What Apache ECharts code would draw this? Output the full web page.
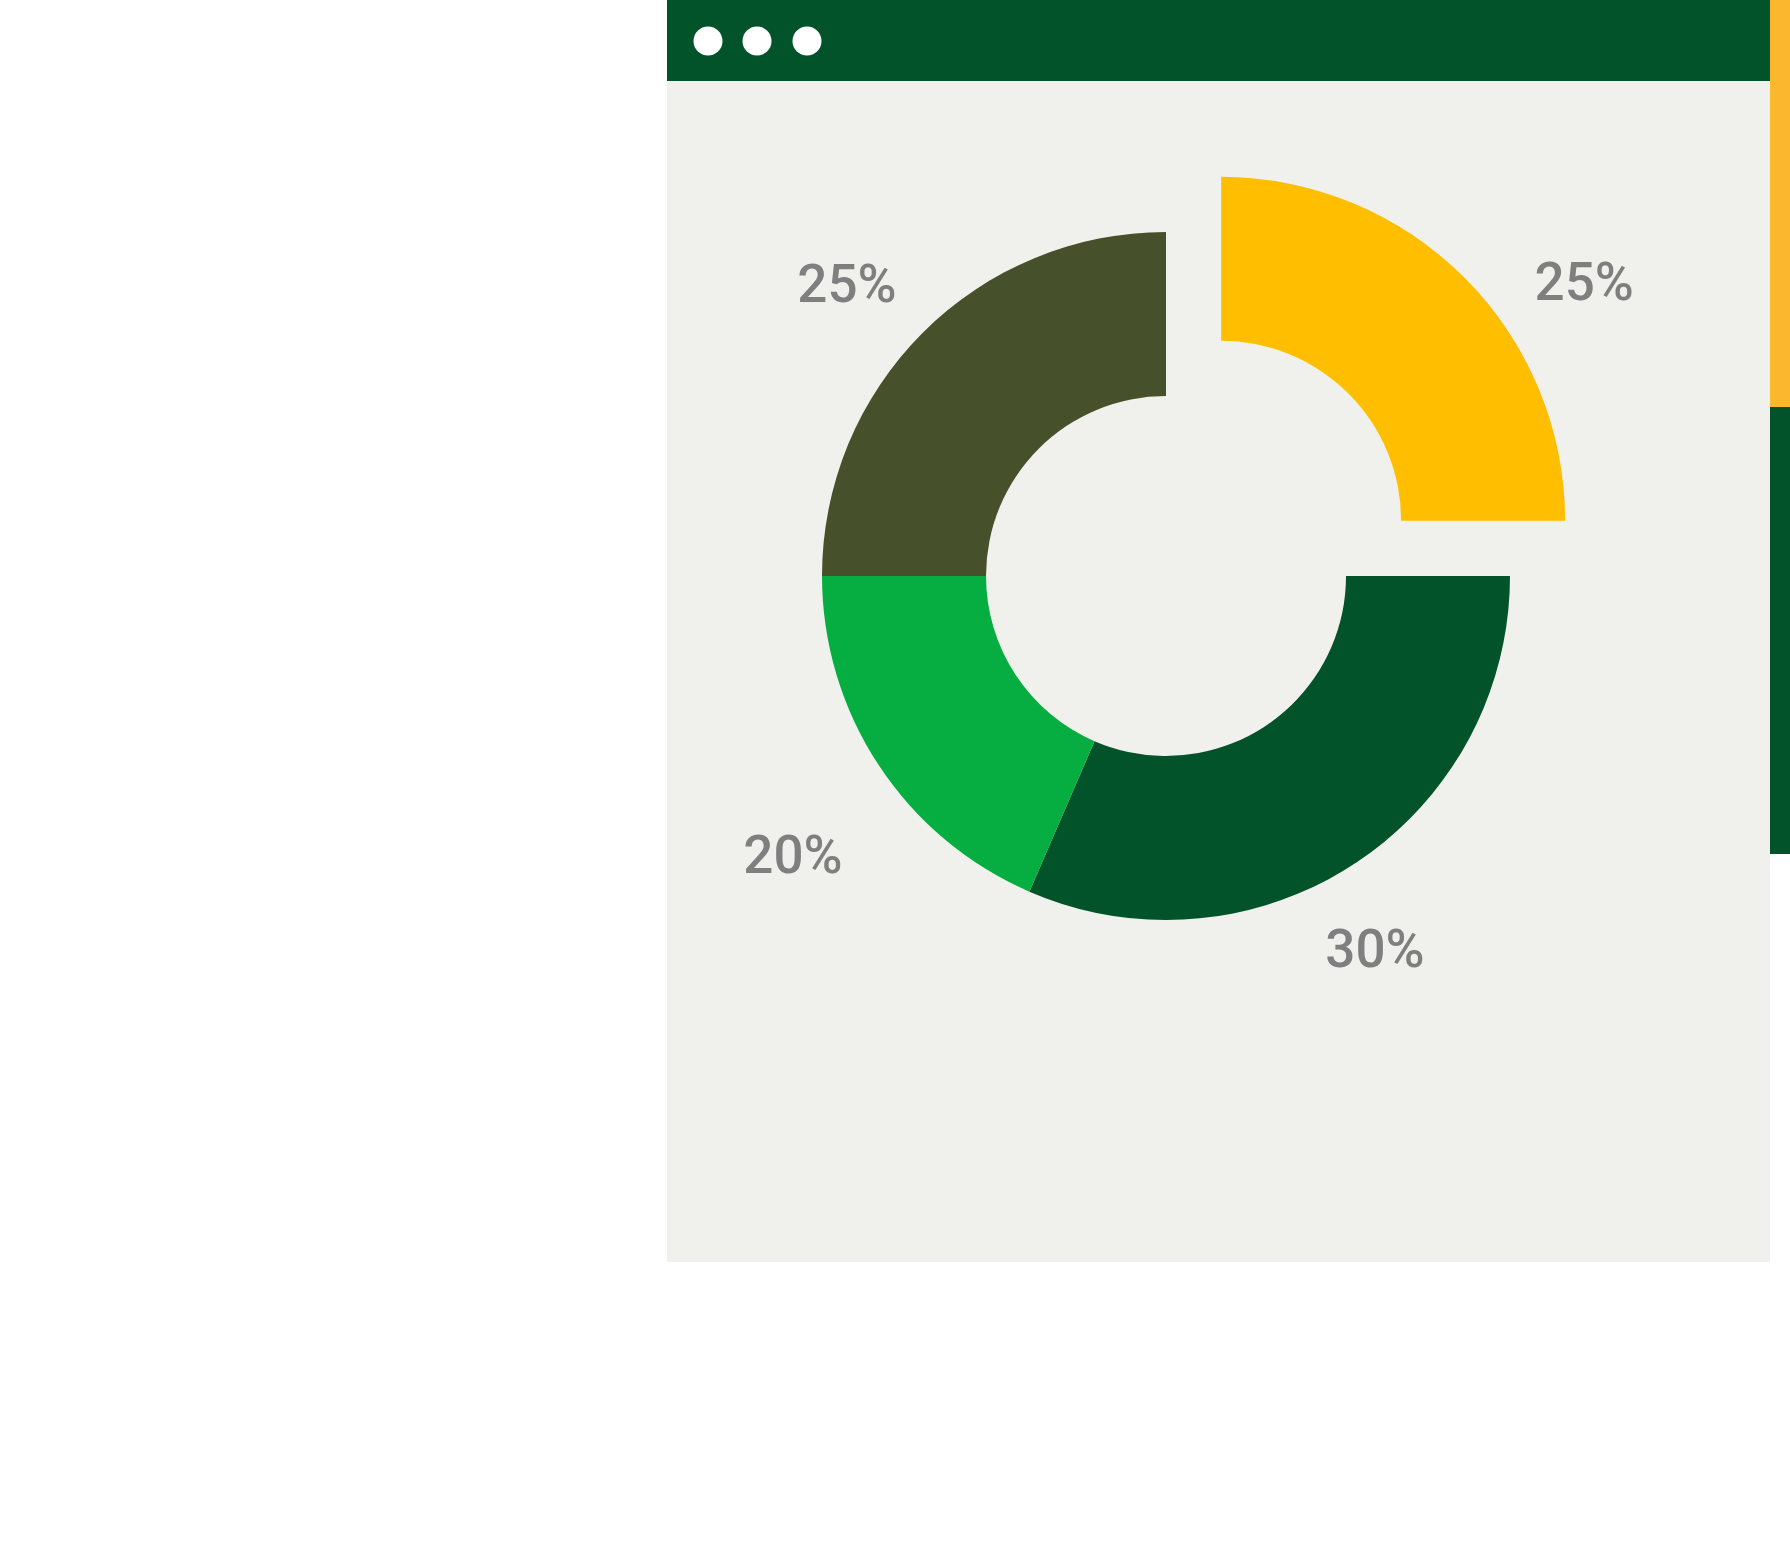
<!DOCTYPE html>
<html>
<head>
<meta charset="utf-8">
<style>
  html, body { margin: 0; padding: 0; background: #ffffff; }
  #chart { width: 1790px; height: 1558px; }
</style>
<script src="https://cdn.jsdelivr.net/npm/echarts@6/dist/echarts.min.js"></script>
</head>
<body>
<div id="chart"></div>
<script>
// ---- data ----
const categories = ['Yellow', 'Dark green', 'Green', 'Olive'];
const values = [25, 31.5, 18.5, 25];
const labelTexts = ['25%', '30%', '20%', '25%'];
const selectedFlags = [true, false, false, false];

// ---- styles / layout ----
const sliceColors = ['#FFBF00', '#02532A', '#06AE42', '#46512C'];
const pieCenter = [1166, 576];
const labelOffsets = [null, [209, 378], [-373, 284], [-319, -287]];

const chart = echarts.init(document.getElementById('chart'), null, { renderer: 'canvas' });

const pieData = categories.map((name, i) => {
  const item = {
    name: name,
    value: values[i],
    selected: selectedFlags[i],
    itemStyle: { color: sliceColors[i] },
    label: { formatter: labelTexts[i] }
  };
  if (selectedFlags[i]) {
    item.labelLine = { show: false, length: -13, length2: 124 };
  }
  return item;
});

chart.setOption({
  animation: false,
  backgroundColor: '#ffffff',
  graphic: [
    { type: 'rect', z: -10, shape: { x: 667, y: 0, width: 1103, height: 1262 }, style: { fill: '#F0F1EC' }, silent: true },
    { type: 'rect', z: -9, shape: { x: 667, y: 0, width: 1103, height: 81 }, style: { fill: '#02532A' }, silent: true },
    { type: 'circle', z: -8, shape: { cx: 708, cy: 41, r: 14.5 }, style: { fill: '#ffffff' }, silent: true },
    { type: 'circle', z: -8, shape: { cx: 757, cy: 41, r: 14.5 }, style: { fill: '#ffffff' }, silent: true },
    { type: 'circle', z: -8, shape: { cx: 807, cy: 41, r: 14.5 }, style: { fill: '#ffffff' }, silent: true },
    { type: 'rect', z: -9, shape: { x: 1770, y: 0, width: 20, height: 407 }, style: { fill: '#FBB82E' }, silent: true },
    { type: 'rect', z: -9, shape: { x: 1770, y: 407, width: 20, height: 447 }, style: { fill: '#02532A' }, silent: true }
  ],
  series: [{
    type: 'pie',
    center: pieCenter,
    radius: [180, 344],
    startAngle: 90,
    clockwise: true,
    selectedMode: 'single',
    selectedOffset: 78,
    avoidLabelOverlap: false,
    silent: true,
    emphasis: { disabled: true, scale: false },
    itemStyle: { borderWidth: 0 },
    label: {
      show: true,
      position: 'outside',
      fontFamily: 'Roboto',
      fontSize: 53,
      fontWeight: 500,
      color: '#7F7F7F'
    },
    labelLine: { show: false },
    labelLayout: function (params) {
      const off = labelOffsets[params.dataIndex];
      if (!off) {
        return { align: 'center', verticalAlign: 'middle' };
      }
      return {
        x: pieCenter[0] + off[0],
        y: pieCenter[1] + off[1],
        align: 'center',
        verticalAlign: 'middle'
      };
    },
    data: pieData
  }]
});
</script>
</body>
</html>
